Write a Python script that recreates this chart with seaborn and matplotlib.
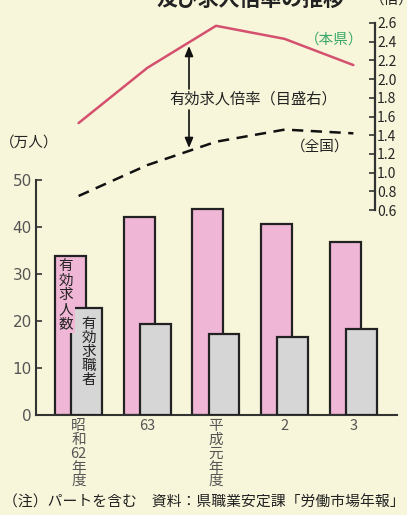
import matplotlib
matplotlib.use("Agg")
import matplotlib.pyplot as plt
import seaborn as sns
import pandas as pd
import numpy as np

# ---- data ----
categories = ["昭\n和\n62\n年\n度", "63", "平\n成\n元\n年\n度", "2", "3"]
job_offers = [34.0, 42.2, 43.9, 40.7, 36.9]      # 有効求人数 (万人)
job_seekers = [22.8, 19.5, 17.2, 16.6, 18.3]     # 有効求職者 (万人)
ratio_pref = [1.53, 2.12, 2.57, 2.43, 2.15]      # 有効求人倍率 本県
ratio_nation = [0.75, 1.08, 1.33, 1.46, 1.42]    # 有効求人倍率 全国
left_ticks = [0, 10, 20, 30, 40, 50]
right_ticks = [0.6, 0.8, 1.0, 1.2, 1.4, 1.6, 1.8, 2.0, 2.2, 2.4, 2.6]

sns.set_style("white")
plt.rcParams["font.family"] = ["Noto Sans CJK JP", "DejaVu Sans"]

BG = "#f8f6da"
PINK = "#f0b6d6"
GRAY = "#d6d6d6"
RED = "#d4506e"
GREEN = "#3aa86a"
TXT = "#222222"
TICK = "#555555"
NARROW = ["Liberation Sans Narrow", "DejaVu Sans"]

W, H = 407, 515
fig = plt.figure(figsize=(W / 100, H / 100), dpi=100, facecolor=BG)

def fx(px):
    return px / W

def fy(py):
    return 1 - py / H

ax_left, ax_right_px, ax_top, ax_bot = 36, 397, 23, 415
ax = fig.add_axes([fx(ax_left), fy(ax_bot), (ax_right_px - ax_left) / W, (ax_bot - ax_top) / H])
ax.set_facecolor("none")

n = len(categories)
pos = np.arange(n)
off = 0.117
df_p = pd.DataFrame({"x": pos - off, "y": job_offers})
df_g = pd.DataFrame({"x": pos + off, "y": job_seekers})

sns.barplot(data=df_p, x="x", y="y", native_scale=True, width=0.45, color=PINK,
            saturation=1, edgecolor="#222222", linewidth=1.6, ax=ax, zorder=2)
sns.barplot(data=df_g, x="x", y="y", native_scale=True, width=0.45, color=GRAY,
            saturation=1, edgecolor="#222222", linewidth=1.6, ax=ax, zorder=3)

px_per_unit = 4.69
ax.set_ylim(0, (ax_bot - ax_top) / px_per_unit)
ax.set_xlim(-0.62, 4.635)
ax.set_yticks(left_ticks)
ax.set_yticklabels([str(t) for t in left_ticks], color=TICK, fontsize=11, family=NARROW)
ax.set_xticks(pos)
ax.set_xticklabels(categories, color=TICK, fontsize=10.5, linespacing=0.98, va="top")
ax.tick_params(axis="x", length=0, pad=3)
ax.tick_params(axis="y", direction="in", length=4, width=1.2, pad=3, color="#333333")
ax.set_xlabel("")
ax.set_ylabel("")
for s in ["top", "right"]:
    ax.spines[s].set_visible(False)
ax.spines["left"].set_bounds(0, 50)
ax.spines["left"].set_linewidth(1.5)
ax.spines["bottom"].set_linewidth(1.5)
ax.spines["left"].set_color("#333333")
ax.spines["bottom"].set_color("#333333")

# ---- right axis for ratios ----
ax2 = ax.twinx()
ax2.set_facecolor("none")
r_ppu = 93.5
ax2.set_ylim(0.6 - (ax_bot - 210) / r_ppu, 2.6)
df_r = pd.DataFrame({"x": pos, "pref": ratio_pref, "nation": ratio_nation})
sns.lineplot(data=df_r, x="x", y="pref", color=RED, linewidth=1.8, ax=ax2, zorder=4)
sns.lineplot(data=df_r, x="x", y="nation", color="#111111", linewidth=1.8, ax=ax2,
             dashes=False, zorder=4)
ax2.lines[-1].set_dashes([4.5, 3])
ax2.set_xlim(-0.62, 4.635)
ax2.set_yticks(right_ticks)
ax2.set_yticklabels([f"{t:.1f}" for t in right_ticks], fontsize=13.5, color="#222222",
                    family=NARROW)
ax2.tick_params(axis="y", direction="in", length=4, width=1.2, pad=1.5, color="#333333")
ax2.set_xlabel("")
ax2.set_ylabel("")
for s in ["top", "left", "bottom"]:
    ax2.spines[s].set_visible(False)
ax2.spines["right"].set_position(("axes", (375 - ax_left) / (ax_right_px - ax_left)))
ax2.spines["right"].set_bounds(0.6, 2.6)
ax2.spines["right"].set_linewidth(1.6)
ax2.spines["right"].set_color("#333333")

# ---- annotations ----
fig.text(fx(250), fy(-1), "及び求人倍率の推移", ha="center", va="center",
         fontsize=15, fontweight="bold", color=TXT)
fig.text(fx(392), fy(0), "（倍）", ha="center", va="center", fontsize=10.5, color=TXT)
fig.text(fx(334), fy(40), "（本県）", ha="center", va="center", fontsize=10.5, color=GREEN)
fig.text(fx(253), fy(99), "有効求人倍率（目盛右）", ha="center", va="center", fontsize=11, color=TXT)
fig.text(fx(320), fy(147), "（全国）", ha="center", va="center", fontsize=10.5, color=TXT)
fig.text(fx(29), fy(143), "（万人）", ha="center", va="center", fontsize=10.5, color=TXT)

arrowprops = dict(arrowstyle="-|>,head_length=0.6,head_width=0.25", color="#111111", lw=1.2,
                  shrinkA=0, shrinkB=0, mutation_scale=10)
fig.add_artist(matplotlib.patches.FancyArrowPatch((fx(189), fy(89)), (fx(189), fy(46)),
               transform=fig.transFigure, **arrowprops))
fig.add_artist(matplotlib.patches.FancyArrowPatch((fx(189), fy(110)), (fx(189), fy(148)),
               transform=fig.transFigure, **arrowprops))

ax.text(pos[0] - off - 0.07, 33.2, "有\n効\n求\n人\n数", ha="center", va="top",
        fontsize=10.5, linespacing=1.05, color=TXT, zorder=6,
        bbox=dict(boxstyle="square,pad=0.1", fc=PINK, ec="none"))
ax.text(pos[0] + off + 0.03, 21.0, "有\n効\n求\n職\n者", ha="center", va="top",
        fontsize=10.5, linespacing=1.0, color=TXT, zorder=6)

fig.text(fx(204), fy(502), "（注）パートを含む　資料：県職業安定課「労働市場年報」",
         ha="center", va="center", fontsize=10.7, color=TXT)

fig.savefig("out.png", dpi=100, facecolor=BG)
